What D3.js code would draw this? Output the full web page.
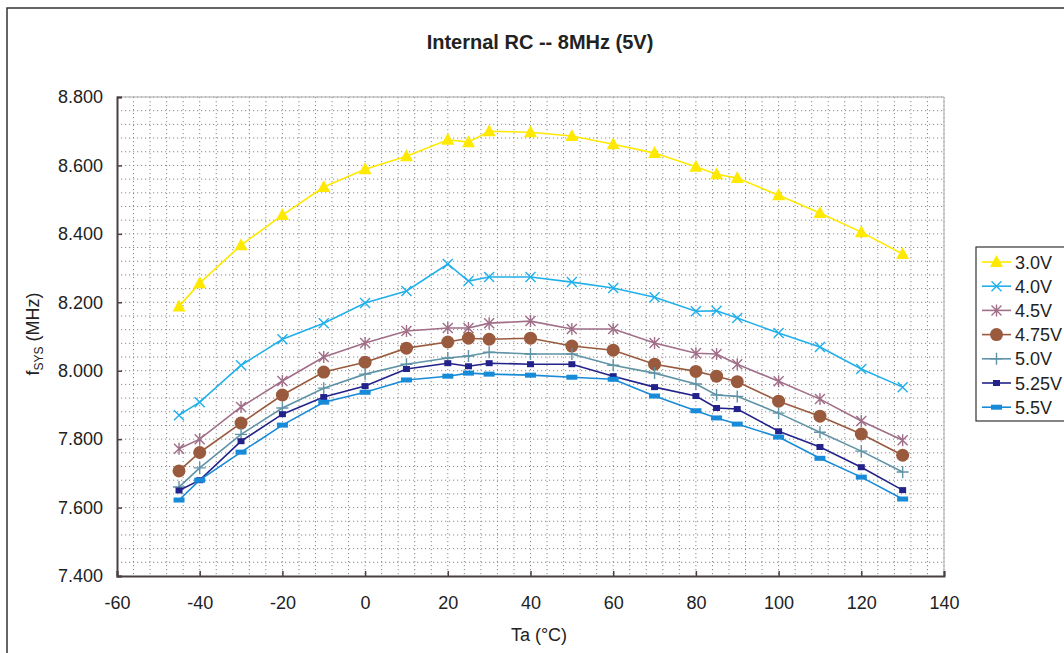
<!DOCTYPE html>
<html>
<head>
<meta charset="utf-8">
<script src="https://cdn.jsdelivr.net/npm/d3@7"></script>
<style>
  body { margin: 0; background: #fff; }
  svg text { font-family: "Liberation Sans", Arial, sans-serif; fill: #222; }
</style>
</head>
<body>
<div id="chart"></div>
<script>
// temperature points (deg C)
var temps = [-45, -40, -30, -20, -10, 0, 10, 20, 25, 30, 40, 50, 60, 70, 80, 85, 90, 100, 110, 120, 130];

// fSYS (MHz) per supply voltage
var v30  = [8.188, 8.256, 8.367, 8.455, 8.537, 8.589, 8.627, 8.675, 8.668, 8.700, 8.697, 8.686, 8.662, 8.636, 8.596, 8.574, 8.563, 8.513, 8.461, 8.405, 8.341];
var v40  = [7.870, 7.908, 8.016, 8.092, 8.139, 8.198, 8.233, 8.312, 8.262, 8.274, 8.274, 8.259, 8.242, 8.215, 8.174, 8.175, 8.154, 8.110, 8.069, 8.005, 7.952];
var v45  = [7.772, 7.800, 7.894, 7.970, 8.040, 8.081, 8.116, 8.125, 8.125, 8.139, 8.145, 8.122, 8.122, 8.081, 8.051, 8.049, 8.019, 7.969, 7.917, 7.853, 7.797];
var v475 = [7.707, 7.761, 7.847, 7.929, 7.996, 8.025, 8.066, 8.084, 8.095, 8.092, 8.095, 8.072, 8.060, 8.019, 7.998, 7.984, 7.968, 7.911, 7.867, 7.815, 7.753];
var v50  = [7.660, 7.716, 7.814, 7.891, 7.949, 7.990, 8.019, 8.037, 8.043, 8.054, 8.049, 8.049, 8.016, 7.993, 7.961, 7.929, 7.925, 7.876, 7.820, 7.765, 7.704];
var v525 = [7.650, 7.680, 7.794, 7.873, 7.923, 7.955, 8.005, 8.022, 8.013, 8.022, 8.019, 8.019, 7.984, 7.952, 7.926, 7.891, 7.888, 7.823, 7.777, 7.718, 7.651];
var v55  = [7.622, 7.680, 7.762, 7.841, 7.908, 7.937, 7.973, 7.984, 7.993, 7.990, 7.987, 7.981, 7.975, 7.926, 7.883, 7.862, 7.844, 7.806, 7.744, 7.689, 7.625];

var seriesNames = ["3.0V", "4.0V", "4.5V", "4.75V", "5.0V", "5.25V", "5.5V"];
var seriesVals = [v30, v40, v45, v475, v50, v525, v55];

var xTicks = [-60, -40, -20, 0, 20, 40, 60, 80, 100, 120, 140];
var yTicks = [7.4, 7.6, 7.8, 8.0, 8.2, 8.4, 8.6, 8.8];

var styles = [
    { color: "#ffe900", marker: "triangle" },
    { color: "#22b0ea", marker: "x" },
    { color: "#a06e88", marker: "star" },
    { color: "#9a5a3e", marker: "circle" },
    { color: "#5f93a6", marker: "plus" },
    { color: "#23228a", marker: "square" },
    { color: "#178bd8", marker: "rect" }
];

var W = 1064, H = 653;
var plot = { left: 117, top: 97, right: 944, bottom: 576 };

var svg = d3.select("#chart").append("svg")
    .attr("width", W)
    .attr("height", H);

// outer frame (runs off the right / bottom of the picture)
svg.append("rect")
    .attr("x", 7).attr("y", 8)
    .attr("width", W + 20).attr("height", H + 20)
    .attr("fill", "none")
    .attr("stroke", "#333")
    .attr("stroke-width", 1.5);

var x = d3.scaleLinear().domain([-60, 140]).range([plot.left, plot.right]);
var y = d3.scaleLinear().domain([7.4, 8.8]).range([plot.bottom, plot.top]);

// dotted grid: every 4 degrees, every 0.04 MHz
var g = svg.append("g");
var xGrid = d3.range(-56, 141, 4);
var yGrid = d3.range(1, 36).map(function(i) { return 7.4 + i * 0.04; });

g.selectAll("line.vg").data(xGrid).enter().append("line")
    .attr("x1", function(d) { return x(d); })
    .attr("x2", function(d) { return x(d); })
    .attr("y1", plot.top).attr("y2", plot.bottom)
    .attr("stroke", "#8a8a8a")
    .attr("stroke-width", 1)
    .attr("stroke-dasharray", "1.2,2.8");

g.selectAll("line.hg").data(yGrid).enter().append("line")
    .attr("x1", plot.left).attr("x2", plot.right)
    .attr("y1", function(d) { return y(d); })
    .attr("y2", function(d) { return y(d); })
    .attr("stroke", "#8a8a8a")
    .attr("stroke-width", 1)
    .attr("stroke-dasharray", "1.2,2.8");

// plot border top/right light gray
svg.append("path")
    .attr("d", "M" + plot.left + "," + plot.top + "H" + plot.right + "V" + plot.bottom)
    .attr("fill", "none")
    .attr("stroke", "#aaa")
    .attr("stroke-width", 1);

// axes  (plain hyphen for negatives, like the original)
var xAxis = d3.axisBottom(x).tickValues(xTicks).tickSize(-5).tickPadding(20)
    .tickFormat(function(d) { return String(d); });
var yAxis = d3.axisLeft(y).tickValues(yTicks).tickSize(-5).tickPadding(14)
    .tickFormat(d3.format(".3f"));

var gx = svg.append("g")
    .attr("transform", "translate(0," + plot.bottom + ")")
    .call(xAxis);
var gy = svg.append("g")
    .attr("transform", "translate(" + plot.left + ",0)")
    .call(yAxis);

[gx, gy].forEach(function(a) {
    a.select(".domain").attr("stroke", "#4a4040").attr("stroke-width", 2);
    a.selectAll(".tick line").attr("stroke", "#4a4040").attr("stroke-width", 1.5);
    a.selectAll(".tick text")
        .style("font-family", "'Liberation Sans', Arial, sans-serif")
        .style("font-size", "18px")
        .attr("fill", "#222");
});

// title and axis labels
svg.append("text")
    .attr("x", 540).attr("y", 49)
    .attr("text-anchor", "middle")
    .style("font-size", "20px")
    .style("font-weight", "bold")
    .text("Internal RC -- 8MHz (5V)");

svg.append("text")
    .attr("x", 539).attr("y", 641)
    .attr("text-anchor", "middle")
    .style("font-size", "18px")
    .text("Ta (\u00B0C)");

var yl = svg.append("text")
    .attr("transform", "translate(39,334) rotate(-90)")
    .attr("text-anchor", "middle")
    .style("font-size", "18px");
yl.append("tspan").text("f");
yl.append("tspan").attr("dy", 4).style("font-size", "12px").text("SYS");
yl.append("tspan").attr("dy", -4).text(" (MHz)");

// marker drawing
function drawMarker(sel, type, color) {
    if (type === "triangle") {
        sel.append("path")
            .attr("d", "M0,-7L6.5,5L-6.5,5Z")
            .attr("fill", color);
    } else if (type === "x") {
        sel.append("path")
            .attr("d", "M-5,-5L5,5M-5,5L5,-5")
            .attr("stroke", color).attr("stroke-width", 1.4).attr("fill", "none");
    } else if (type === "star") {
        sel.append("path")
            .attr("d", "M-5,-5L5,5M-5,5L5,-5M0,-6L0,6")
            .attr("stroke", color).attr("stroke-width", 1.4).attr("fill", "none");
    } else if (type === "circle") {
        sel.append("circle")
            .attr("r", 6.5)
            .attr("fill", color);
    } else if (type === "plus") {
        sel.append("path")
            .attr("d", "M-6,0L6,0M0,-6L0,6")
            .attr("stroke", color).attr("stroke-width", 1.4).attr("fill", "none");
    } else if (type === "square") {
        sel.append("rect")
            .attr("x", -3.5).attr("y", -3).attr("width", 7).attr("height", 6)
            .attr("fill", color);
    } else if (type === "rect") {
        sel.append("rect")
            .attr("x", -5.5).attr("y", -2.5).attr("width", 11).attr("height", 5)
            .attr("fill", color);
    }
}

var line = d3.line()
    .x(function(d) { return x(d[0]); })
    .y(function(d) { return y(d[1]); });

for (var i = 0; i < seriesVals.length; ++i) {
    var pts = temps.map(function(t, j) { return [t, seriesVals[i][j]]; });
    var sg = svg.append("g");

    sg.append("path")
        .datum(pts)
        .attr("d", line)
        .attr("fill", "none")
        .attr("stroke", styles[i].color)
        .attr("stroke-width", 1.6);

    for (var j = 0; j < pts.length; ++j) {
        var m = sg.append("g")
            .attr("transform", "translate(" + x(pts[j][0]) + "," + y(pts[j][1]) + ")");
        drawMarker(m, styles[i].marker, styles[i].color);
    }
}

// legend
var leg = svg.append("g");
leg.append("rect")
    .attr("x", 976).attr("y", 247)
    .attr("width", 120).attr("height", 174)
    .attr("fill", "#fff")
    .attr("stroke", "#333")
    .attr("stroke-width", 1.2);

for (var k = 0; k < seriesNames.length; ++k) {
    var ly = 262 + k * 24.2;
    leg.append("line")
        .attr("x1", 982).attr("x2", 1011)
        .attr("y1", ly).attr("y2", ly)
        .attr("stroke", styles[k].color)
        .attr("stroke-width", 1.6);
    var lm = leg.append("g").attr("transform", "translate(996.5," + ly + ")");
    drawMarker(lm, styles[k].marker, styles[k].color);
    leg.append("text")
        .attr("x", 1015).attr("y", ly + 6.5)
        .style("font-size", "18px")
        .text(seriesNames[k]);
}
</script>
</body>
</html>
